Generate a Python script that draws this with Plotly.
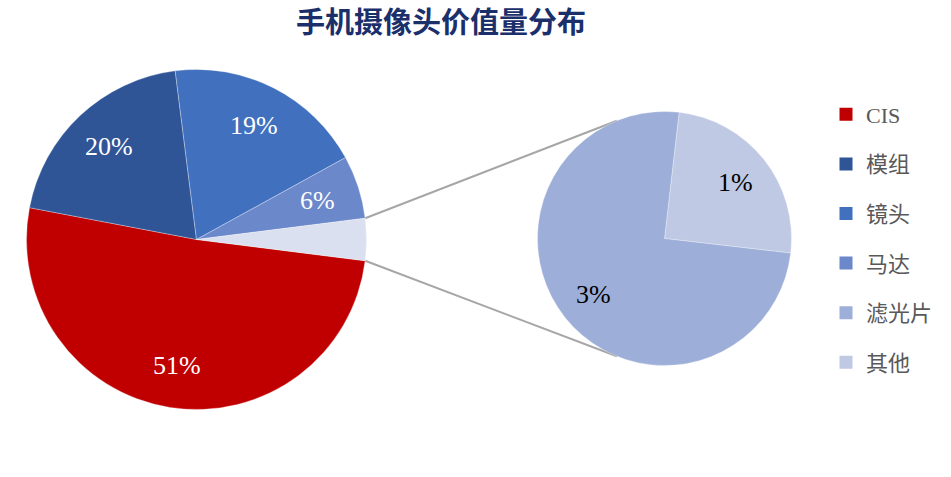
import math
import plotly.graph_objects as go

# ---------------- data ----------------
main_labels = ["CIS", "模组", "镜头", "马达", "其他合计"]
main_values = [51, 20, 19, 6, 4]
main_text = ["51%", "20%", "19%", "6%", ""]

sub_labels = ["其他", "滤光片"]
sub_values = [1, 3]
sub_text = ["1%", "3%"]

legend_labels = ["CIS", "模组", "镜头", "马达", "滤光片", "其他"]

# ---------------- styles ----------------
color_map = {
    "CIS": "#C00000",
    "模组": "#2F5597",
    "镜头": "#4170BF",
    "马达": "#6B88CA",
    "其他合计": "#DAE0EF",
    "滤光片": "#9DAED8",
    "其他": "#BFC9E4",
}
W, H = 951, 477
SERIF = "Liberation Serif, Noto Sans CJK SC, serif"

# main pie geometry (pixels)
mcx, mcy, mr = 196.5, 239.5, 170
# secondary pie geometry (pixels)
scx, scy, sr = 664.5, 238.5, 127

def dom(cx, cy, r):
    return dict(x=[(cx - r) / W, (cx + r) / W],
                y=[1 - (cy + r) / H, 1 - (cy - r) / H])

# rotation so the aggregated slice is centered on the right (3 o'clock)
other_frac = main_values[-1] / sum(main_values)
main_rot = 90 + other_frac * 180
sub_rot = 6.6

fig = go.Figure()

fig.add_trace(go.Pie(
    labels=main_labels, values=main_values,
    textinfo="none",
    sort=False, direction="clockwise", rotation=main_rot,
    marker=dict(colors=[color_map[l] for l in main_labels],
                line=dict(color="rgba(255,255,255,0.6)", width=0.5)),
    domain=dom(mcx, mcy, mr), showlegend=False, hoverinfo="label+value",
))

fig.add_trace(go.Pie(
    labels=sub_labels, values=sub_values,
    textinfo="none",
    sort=False, direction="clockwise", rotation=sub_rot,
    marker=dict(colors=[color_map[l] for l in sub_labels],
                line=dict(color="rgba(255,255,255,0.6)", width=0.5)),
    domain=dom(scx, scy, sr), showlegend=False, hoverinfo="label+value",
))

# data labels placed at slice mid-angles (computed from values)
annotations = []

def add_labels(values, texts, rot, cx, cy, r, frac, color):
    total = sum(values)
    start = 90 - rot
    for v, t in zip(values, texts):
        span = v / total * 360
        mid = math.radians(start - span / 2)
        start -= span
        if not t:
            continue
        x = cx + frac * r * math.cos(mid)
        y = cy - frac * r * math.sin(mid)
        annotations.append(dict(x=x / W, y=1 - y / H, xref="paper", yref="paper",
                                text=t, showarrow=False, xanchor="center", yanchor="middle",
                                font=dict(family=SERIF, size=26, color=color)))

add_labels(main_values, main_text, main_rot, mcx, mcy, mr, 0.75, "white")
add_labels(sub_values, sub_text, sub_rot, scx, scy, sr, 0.71, "black")

# legend entries
for i, lab in enumerate(legend_labels):
    fig.add_trace(go.Scatter(
        x=[None], y=[None], mode="markers", name=lab,
        legendgroup=f"g{i}",
        marker=dict(symbol="square", size=13, color=color_map[lab]),
        showlegend=True,
    ))

# connector lines between the aggregated slice and the secondary pie
half = other_frac * 180
conn_angle = 112
shapes = []
for sgn in (1, -1):
    a1 = math.radians(sgn * half)
    x0 = mcx + mr * math.cos(a1)
    y0 = mcy - mr * math.sin(a1)
    a2 = math.radians(180 - sgn * (180 - conn_angle))
    x1 = scx + sr * math.cos(a2)
    y1 = scy - sr * math.sin(a2)
    shapes.append(dict(type="line", xref="paper", yref="paper",
                       x0=x0 / W, y0=1 - y0 / H, x1=x1 / W, y1=1 - y1 / H,
                       line=dict(color="#A6A6A6", width=2), layer="below"))

fig.update_layout(
    width=W, height=H,
    margin=dict(l=0, r=0, t=0, b=0),
    paper_bgcolor="white", plot_bgcolor="white",
    title=dict(text="<b>手机摄像头价值量分布</b>", x=441 / W, xanchor="center",
               y=1 - 23 / H, yanchor="middle",
               font=dict(family="Noto Sans CJK SC", size=29, color="#1B2F6B")),
    xaxis=dict(visible=False), yaxis=dict(visible=False),
    shapes=shapes,
    annotations=annotations,
    legend=dict(x=826 / W, xanchor="left", y=0.5, yanchor="middle",
                traceorder="grouped", tracegroupgap=18,
                font=dict(family=SERIF, size=22, color="#595959"),
                bgcolor="rgba(0,0,0,0)"),
)

fig.write_html("out.html", config={"displayModeBar": False},
               post_script="document.body.style.margin='0';document.body.style.overflow='hidden';")
